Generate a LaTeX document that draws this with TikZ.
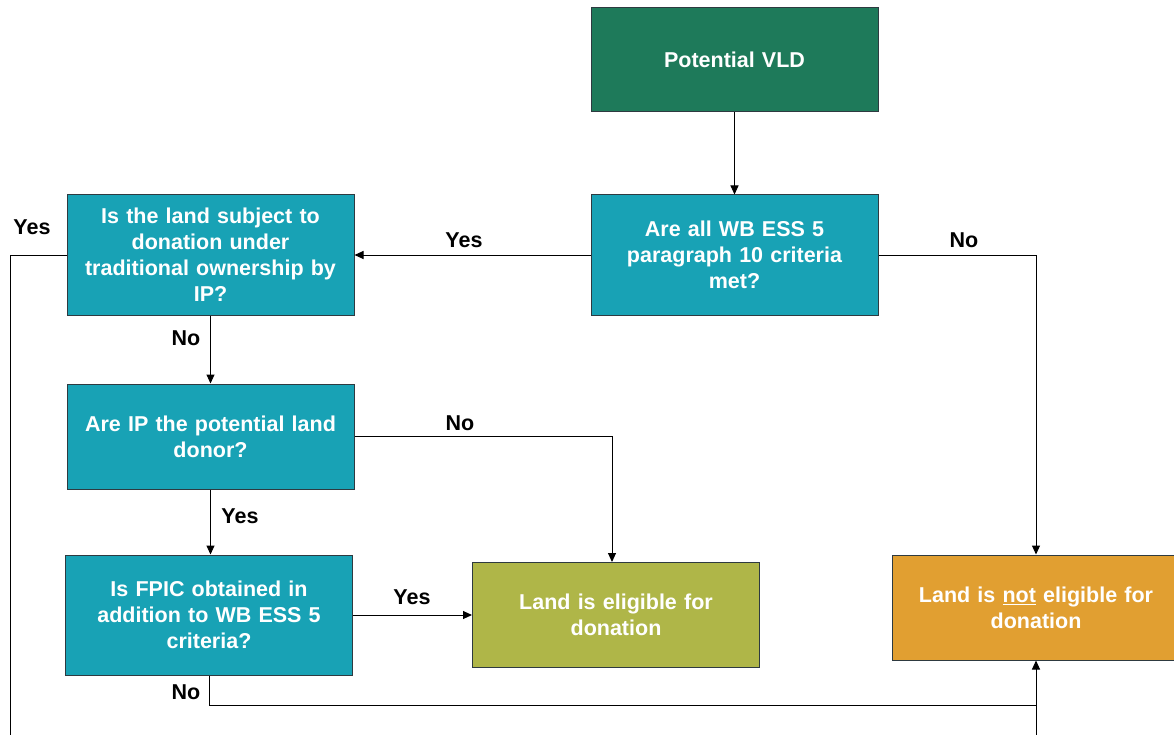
\documentclass[tikz,border=0pt]{standalone}
\usepackage{fontspec}
\setmainfont{Liberation Sans}
\usetikzlibrary{arrows.meta}
\definecolor{dkgreen}{HTML}{1E7A5A}
\definecolor{teal}{HTML}{18A2B5}
\definecolor{olive}{HTML}{AFB648}
\definecolor{orng}{HTML}{E19F31}
\definecolor{edge}{HTML}{2E3A40}
\tikzset{
  box/.style={draw=edge, line width=1pt, text=white, align=center,
    font=\bfseries\fontsize{21.5}{26}\selectfont, inner sep=0pt,
    minimum width=287pt, text width=272pt},
  conn/.style={line width=1pt, draw=black},
  arr/.style={conn, -{Triangle[length=9pt,width=8pt]}},
  lbl/.style={font=\bfseries\fontsize{21.5}{24}\selectfont, text=black, inner sep=0pt}
}
\begin{document}
\begin{tikzpicture}[x=1pt,y=-1pt]
\useasboundingbox (0,0) rectangle (1174,735);
\clip (0,0) rectangle (1174,735);
\node[box, fill=dkgreen, minimum height=104pt] (vld) at (734.5,60) {Potential VLD};
\node[box, fill=teal, minimum height=120pt] (all) at (734.5,255) {Are all WB ESS 5\\paragraph 10 criteria\\met?};
\node[box, fill=teal, minimum height=120pt] (land) at (210.5,255) {Is the land subject to\\donation under\\traditional ownership by\\IP?};
\node[box, fill=teal, minimum height=105pt] (ip) at (210.5,436.5) {Are IP the potential land\\donor?};
\node[box, fill=teal, minimum height=120pt] (fpic) at (209,615) {Is FPIC obtained in\\addition to WB ESS 5\\criteria?};
\node[box, fill=olive, minimum height=105pt] (elig) at (616,614.5) {Land is eligible for\\donation};
\node[box, fill=orng, minimum height=105pt] (not) at (1036,607.5) {Land is \underline{not} eligible for\\donation};

\coordinate (leftdown) at (10,740);
\coordinate (rightup) at (1036,740);
\coordinate (join) at (1036,705);

\draw[arr] (vld.south) -- (all.north);
\draw[arr] (all.west) -- (land.east);
\draw[arr] (all.east) -| (not.north);
\draw[arr] (land.south) -- (ip.north);
\draw[arr] (ip.east) -| (612,562);
\draw[arr] (ip.south) -- (ip.south |- fpic.north);
\draw[arr] (fpic.east) -- (fpic.east -| elig.west);
\draw[arr] (fpic.south) |- (join) -- (not.south);
\draw[conn] (rightup) -- (join);
\draw[conn] (land.west) -| (leftdown);

\node[lbl] (l1) at (32,227) {Yes};
\node[lbl] (l2) at (464,240) {Yes};
\node[lbl] (l3) at (964,240) {No};
\node[lbl] (l4) at (186,338) {No};
\node[lbl] (l5) at (460,423) {No};
\node[lbl] (l6) at (240,516) {Yes};
\node[lbl] (l7) at (412,597) {Yes};
\node[lbl] (l8) at (186,692) {No};
\end{tikzpicture}
\end{document}
